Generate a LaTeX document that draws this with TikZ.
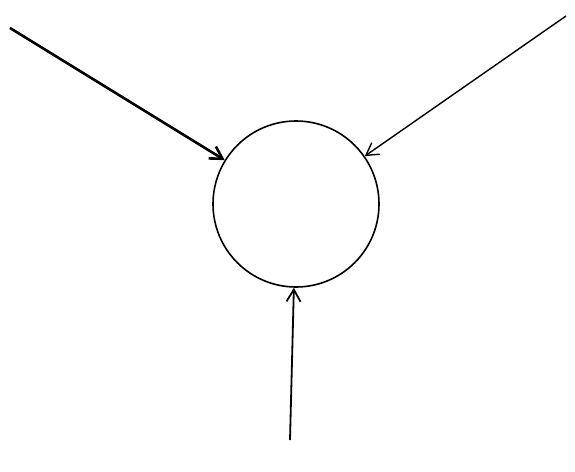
\documentclass[tikz,border=0pt]{standalone}
\usepackage{tikz}
\usetikzlibrary{arrows.meta}

\begin{document}
\begin{tikzpicture}[x=1pt,y=-1pt,
    hub/.style={draw,circle,line width=1.6pt,minimum size=166pt,inner sep=0pt},
    feed/.style={-{Straight Barb[length=12pt,width=14pt]},line width=1.4pt}]
    \useasboundingbox (0,0) rectangle (575,471);
    \node[hub] (hub) at (296,204) {};
    \coordinate (nw) at (10,28);
    \coordinate (ne) at (566,16);
    \coordinate (s) at (290,440);
    \draw[feed,line width=2.6pt] (nw) -- (hub);
    \draw[feed] (ne) -- (hub);
    \draw[feed,line width=1.8pt] (s) -- (hub);
  \end{tikzpicture}
\end{document}
